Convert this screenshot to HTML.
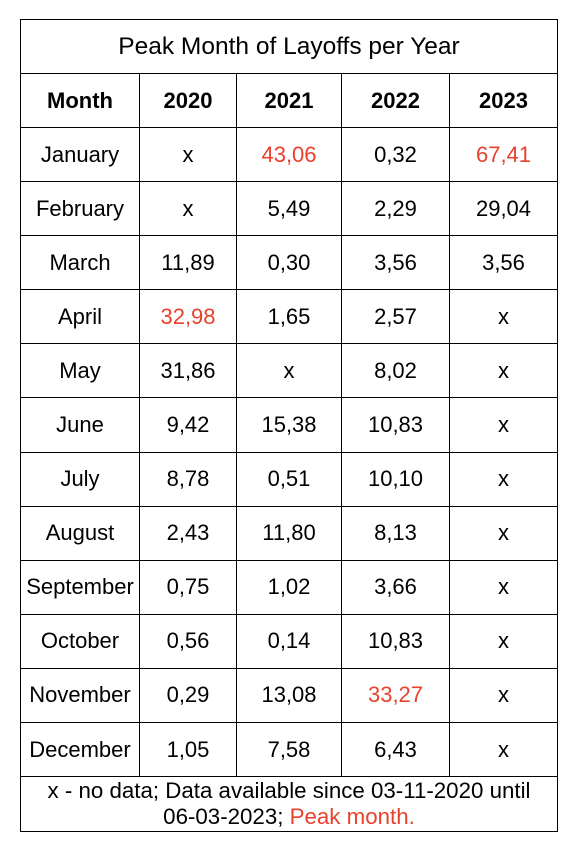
<!DOCTYPE html>
<html><head><meta charset="utf-8"><style>
body{margin:0;background:#fff;width:582px;height:848px;position:relative;font-family:"Liberation Sans",Arial,sans-serif;color:#000}
table{position:absolute;left:20px;top:19px;width:537px;border-collapse:collapse;table-layout:fixed}
td,th{border:1.3px solid #000;text-align:center;font-size:22px;padding:0;height:53px}
tr.d td{height:53.1px}
th{font-weight:bold;font-size:22px}
.r{color:#e8412c}
.title{height:53px;font-size:24.5px}
.foot{height:54px;line-height:26px;font-size:22.3px}
</style></head><body>
<table>
<colgroup><col style="width:119px"><col style="width:97px"><col style="width:105px"><col style="width:108px"><col style="width:108px"></colgroup>
<tr><td colspan="5" class="title">Peak Month of Layoffs per Year</td></tr>
<tr><th>Month</th><th>2020</th><th>2021</th><th>2022</th><th>2023</th></tr>
<tr class="d"><td>January</td><td>x</td><td class="r">43,06</td><td>0,32</td><td class="r">67,41</td></tr>
<tr class="d"><td>February</td><td>x</td><td>5,49</td><td>2,29</td><td>29,04</td></tr>
<tr class="d"><td>March</td><td>11,89</td><td>0,30</td><td>3,56</td><td>3,56</td></tr>
<tr class="d"><td>April</td><td class="r">32,98</td><td>1,65</td><td>2,57</td><td>x</td></tr>
<tr class="d"><td>May</td><td>31,86</td><td>x</td><td>8,02</td><td>x</td></tr>
<tr class="d"><td>June</td><td>9,42</td><td>15,38</td><td>10,83</td><td>x</td></tr>
<tr class="d"><td>July</td><td>8,78</td><td>0,51</td><td>10,10</td><td>x</td></tr>
<tr class="d"><td>August</td><td>2,43</td><td>11,80</td><td>8,13</td><td>x</td></tr>
<tr class="d"><td>September</td><td>0,75</td><td>1,02</td><td>3,66</td><td>x</td></tr>
<tr class="d"><td>October</td><td>0,56</td><td>0,14</td><td>10,83</td><td>x</td></tr>
<tr class="d"><td>November</td><td>0,29</td><td>13,08</td><td class="r">33,27</td><td>x</td></tr>
<tr class="d"><td>December</td><td>1,05</td><td>7,58</td><td>6,43</td><td>x</td></tr>
<tr><td colspan="5" class="foot">x - no data; Data available since 03-11-2020 until<br>06-03-2023; <span class="r">Peak month.</span></td></tr>
</table>
</body></html>
